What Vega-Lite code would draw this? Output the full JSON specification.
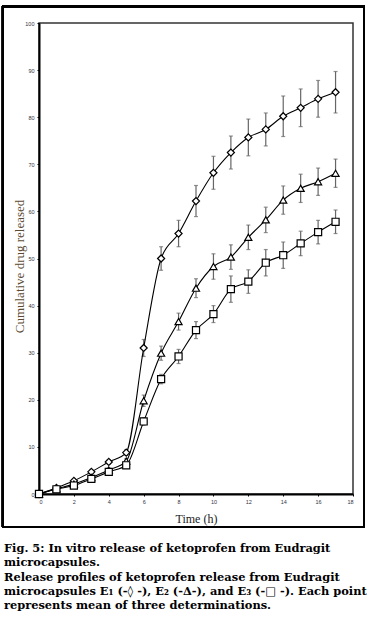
{
  "$schema": "https://vega.github.io/schema/vega-lite/v6.json",
  "width": 314,
  "height": 471,
  "autosize": "none",
  "padding": {"left": 39, "top": 23, "right": 23, "bottom": 128},
  "background": "white",
  "title": {
    "text": ["Fig. 5: In vitro release of ketoprofen from Eudragit", "microcapsules."],
    "subtitle": ["Release profiles of ketoprofen release from Eudragit", "microcapsules E₁ (-◊ -), E₂ (-Δ-), and E₃ (-□ -). Each point", "represents mean of three determinations."],
    "orient": "bottom",
    "anchor": "start",
    "frame": "group",
    "dx": -35,
    "offset": 15,
    "font": "DejaVu Serif",
    "fontSize": 11.4,
    "fontWeight": "bold",
    "color": "black",
    "lineHeight": 14,
    "subtitleFont": "DejaVu Serif",
    "subtitleFontSize": 11.4,
    "subtitleFontWeight": "bold",
    "subtitleColor": "black",
    "subtitleLineHeight": 14,
    "subtitlePadding": 4
  },
  "data": {
    "values": [
      {"t": 0, "s": "E1", "v": 0, "e": 0},
      {"t": 1, "s": "E1", "v": 1.3, "e": 0.3},
      {"t": 2, "s": "E1", "v": 2.8, "e": 0.4},
      {"t": 3, "s": "E1", "v": 4.7, "e": 0.5},
      {"t": 4, "s": "E1", "v": 6.8, "e": 0.5},
      {"t": 5, "s": "E1", "v": 8.8, "e": 0.6},
      {"t": 6, "s": "E1", "v": 31, "e": 1.8},
      {"t": 7, "s": "E1", "v": 50, "e": 2.5},
      {"t": 8, "s": "E1", "v": 55.3, "e": 2.8},
      {"t": 9, "s": "E1", "v": 62.2, "e": 3.3},
      {"t": 10, "s": "E1", "v": 68.2, "e": 3.5},
      {"t": 11, "s": "E1", "v": 72.5, "e": 3.5},
      {"t": 12, "s": "E1", "v": 75.7, "e": 3.9},
      {"t": 13, "s": "E1", "v": 77.4, "e": 3.5},
      {"t": 14, "s": "E1", "v": 80.2, "e": 4.3},
      {"t": 15, "s": "E1", "v": 82, "e": 4},
      {"t": 16, "s": "E1", "v": 83.9, "e": 3.9},
      {"t": 17, "s": "E1", "v": 85.3, "e": 4.4},
      {"t": 0, "s": "E2", "v": 0, "e": 0},
      {"t": 1, "s": "E2", "v": 1.1, "e": 0.3},
      {"t": 2, "s": "E2", "v": 2.1, "e": 0.3},
      {"t": 3, "s": "E2", "v": 3.5, "e": 0.4},
      {"t": 4, "s": "E2", "v": 5.1, "e": 0.4},
      {"t": 5, "s": "E2", "v": 7, "e": 0.5},
      {"t": 6, "s": "E2", "v": 19.8, "e": 1.2},
      {"t": 7, "s": "E2", "v": 29.9, "e": 1.5},
      {"t": 8, "s": "E2", "v": 36.6, "e": 1.8},
      {"t": 9, "s": "E2", "v": 43.7, "e": 2},
      {"t": 10, "s": "E2", "v": 48.3, "e": 2.7},
      {"t": 11, "s": "E2", "v": 50.3, "e": 2.6},
      {"t": 12, "s": "E2", "v": 54.5, "e": 2.6},
      {"t": 13, "s": "E2", "v": 58.2, "e": 2.7},
      {"t": 14, "s": "E2", "v": 62.4, "e": 3},
      {"t": 15, "s": "E2", "v": 64.9, "e": 3},
      {"t": 16, "s": "E2", "v": 66.3, "e": 2.9},
      {"t": 17, "s": "E2", "v": 68.1, "e": 3},
      {"t": 0, "s": "E3", "v": 0, "e": 0},
      {"t": 1, "s": "E3", "v": 1, "e": 0.2},
      {"t": 2, "s": "E3", "v": 1.8, "e": 0.3},
      {"t": 3, "s": "E3", "v": 3.2, "e": 0.3},
      {"t": 4, "s": "E3", "v": 4.7, "e": 0.4},
      {"t": 5, "s": "E3", "v": 6.1, "e": 0.5},
      {"t": 6, "s": "E3", "v": 15.4, "e": 0.8},
      {"t": 7, "s": "E3", "v": 24.4, "e": 1},
      {"t": 8, "s": "E3", "v": 29.2, "e": 1.5},
      {"t": 9, "s": "E3", "v": 34.8, "e": 1.8},
      {"t": 10, "s": "E3", "v": 38.2, "e": 1.8},
      {"t": 11, "s": "E3", "v": 43.5, "e": 2.8},
      {"t": 12, "s": "E3", "v": 45.1, "e": 2.5},
      {"t": 13, "s": "E3", "v": 49.1, "e": 2.8},
      {"t": 14, "s": "E3", "v": 50.7, "e": 2.8},
      {"t": 15, "s": "E3", "v": 53.2, "e": 2.6},
      {"t": 16, "s": "E3", "v": 55.6, "e": 2.5},
      {"t": 17, "s": "E3", "v": 57.8, "e": 2.5}
    ]
  },
  "encoding": {
    "x": {
      "field": "t", "type": "quantitative",
      "scale": {"domain": [0, 18], "nice": false},
      "axis": {"values": [0, 2, 4, 6, 8, 10, 12, 14, 16, 18], "title": "Time (h)", "grid": false}
    },
    "y": {
      "field": "v", "type": "quantitative",
      "scale": {"domain": [0, 100], "nice": false},
      "axis": {"values": [0, 10, 20, 30, 40, 50, 60, 70, 80, 90, 100], "title": "Cumulative drug released", "grid": false}
    }
  },
  "layer": [
    {
      "mark": {"type": "rect", "fill": null, "stroke": "black", "strokeWidth": 1.5, "clip": false},
      "encoding": {
        "x": {"datum": -2.08, "type": "quantitative"},
        "x2": {"datum": 18.64},
        "y": {"datum": 103.5, "type": "quantitative"},
        "y2": {"datum": -7.0}
      }
    },
    {
      "mark": {"type": "errorbar", "ticks": {"size": 4, "color": "#666", "thickness": 1.2}, "rule": {"color": "#666", "strokeWidth": 1.2}},
      "encoding": {
        "x": {"field": "t", "type": "quantitative"},
        "y": {"field": "v", "type": "quantitative"},
        "yError": {"field": "e"},
        "detail": {"field": "s"}
      }
    },
    {
      "mark": {"type": "line", "interpolate": "monotone", "color": "black", "strokeWidth": 1.1},
      "encoding": {"detail": {"field": "s"}}
    },
    {
      "mark": {"type": "point", "filled": false, "fill": "white", "fillOpacity": 1, "stroke": "black", "strokeWidth": 1.2, "opacity": 1},
      "encoding": {
        "shape": {
          "field": "s", "type": "nominal",
          "scale": {"domain": ["E1", "E2", "E3"], "range": ["diamond", "triangle-up", "square"]},
          "legend": null
        },
        "size": {
          "field": "s", "type": "nominal",
          "scale": {"domain": ["E1", "E2", "E3"], "range": [50, 50, 60]},
          "legend": null
        }
      }
    }
  ],
  "config": {
    "view": {"stroke": "#333", "strokeWidth": 1.5},
    "axis": {
      "domainColor": "black",
      "domainWidth": 2,
      "tickColor": "black",
      "tickSize": 2,
      "tickWidth": 1,
      "labelFont": "Liberation Sans",
      "labelFontSize": 5.5,
      "labelColor": "#334",
      "labelPadding": 3,
      "titleFont": "Liberation Serif",
      "titleFontWeight": "normal"
    },
    "axisX": {"titleFontSize": 12, "titleColor": "#222", "titlePadding": 9},
    "axisY": {"titleFontSize": 13, "titleColor": "#5b4b32", "titlePadding": -2, "titleY": 243}
  }
}
